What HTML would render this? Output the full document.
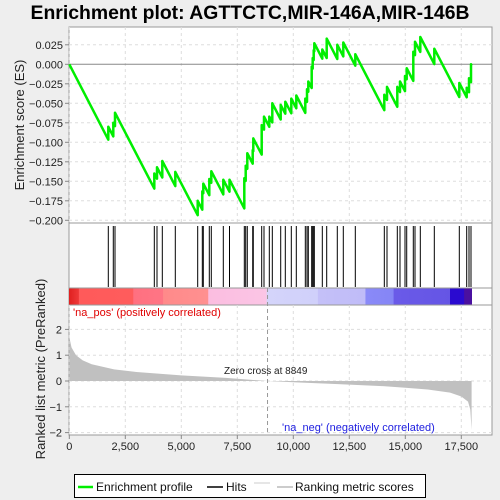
<!DOCTYPE html>
<html><head><meta charset="utf-8"><style>
html,body{margin:0;padding:0;background:#eeeeee;}
svg{display:block;font-family:"Liberation Sans",sans-serif;}
</style></head><body>
<svg id="chart" width="500" height="500" xmlns="http://www.w3.org/2000/svg">
<defs>
<linearGradient id="rankbar" x1="0" x2="1" y1="0" y2="0">
<stop offset="0" stop-color="#e02020"/><stop offset="0.024" stop-color="#ee3838"/>
<stop offset="0.025" stop-color="#ff5a5a"/><stop offset="0.159" stop-color="#ff5c5c"/>
<stop offset="0.16" stop-color="#ff7080"/><stop offset="0.233" stop-color="#ff7585"/>
<stop offset="0.234" stop-color="#ff8a8a"/><stop offset="0.345" stop-color="#ff9090"/>
<stop offset="0.346" stop-color="#fbbde0"/><stop offset="0.49" stop-color="#fbc5e5"/>
<stop offset="0.491" stop-color="#d4d4fa"/><stop offset="0.617" stop-color="#d0d0fa"/>
<stop offset="0.618" stop-color="#c4c0f8"/><stop offset="0.735" stop-color="#c0bcf8"/>
<stop offset="0.736" stop-color="#8a8af8"/><stop offset="0.805" stop-color="#8585f5"/>
<stop offset="0.806" stop-color="#6a5ae8"/><stop offset="0.945" stop-color="#6555e5"/>
<stop offset="0.946" stop-color="#2a0ad0"/><stop offset="0.98" stop-color="#2a0ad0"/>
<stop offset="0.981" stop-color="#4a10a0"/><stop offset="1" stop-color="#4a10a0"/>
</linearGradient>
</defs>
<text x="250" y="19" text-anchor="middle" font-size="19" font-weight="bold" textLength="439" lengthAdjust="spacingAndGlyphs">Enrichment plot: AGTTCTC,MIR-146A,MIR-146B</text>
<rect x="69" y="27" width="423" height="196" fill="#fff" stroke="#999"/>
<rect x="69" y="223" width="423" height="65" fill="#fff" stroke="#999"/>
<rect x="69" y="288" width="423" height="17" fill="#fff" stroke="#999"/>
<rect x="69" y="288.5" width="403" height="16" fill="url(#rankbar)"/>
<rect x="69" y="305" width="423" height="130" fill="#fff" stroke="#999"/>
<g id="grid"></g>
<g id="metric"></g>
<g id="hits"></g>
<g id="es"></g>
<g id="axes"></g>
<text x="73" y="316" font-size="11" fill="#e00000">'na_pos' (positively correlated)</text>
<text x="282" y="431" font-size="11" fill="#2020e0">'na_neg' (negatively correlated)</text>
<text x="224" y="374" font-size="10" fill="#222">Zero cross at 8849</text>
<text x="280" y="486" text-anchor="middle" font-size="13" fill="#222">Rank in Ordered Dataset</text>
<text transform="translate(24,125) rotate(-90)" text-anchor="middle" font-size="13" fill="#222">Enrichment score (ES)</text>
<text transform="translate(45,369) rotate(-90)" text-anchor="middle" font-size="13" fill="#222">Ranked list metric (PreRanked)</text>
<g>
<rect x="74.5" y="474.5" width="351" height="23" fill="#fff" stroke="#000"/>
<line x1="78" y1="487" x2="93" y2="487" stroke="#00ee00" stroke-width="2.5"/>
<text x="96" y="491" font-size="12" fill="#111">Enrichment profile</text>
<line x1="207" y1="487" x2="223" y2="487" stroke="#000" stroke-width="1.5"/>
<text x="226" y="491" font-size="12" fill="#111">Hits</text>
<line x1="254" y1="483" x2="270" y2="483" stroke="#ccc"/>
<line x1="277" y1="487" x2="293" y2="487" stroke="#bbb" stroke-width="1.5"/>
<text x="295" y="491" font-size="12" fill="#111">Ranking metric scores</text>
</g>
</svg>
<script>
const NS="http://www.w3.org/2000/svg";
const hitRanks=[1741,1964,2040,3795,3915,4152,4732,5732,5938,5982,6250,6339,6875,7152,7813,7875,7946,8188,8214,8589,8692,8929,9063,9438,9643,9911,10134,10536,10612,10670,10821,10866,10911,10938,11295,11491,11964,12232,12768,14063,14183,14643,14763,14987,15063,15357,15433,15670,16295,17411,17741,17844,17933];
const esAfterHit=[-0.080,-0.075,-0.062,-0.140,-0.132,-0.124,-0.138,-0.175,-0.163,-0.153,-0.147,-0.137,-0.148,-0.148,-0.146,-0.130,-0.114,-0.110,-0.095,-0.078,-0.067,-0.067,-0.050,-0.052,-0.048,-0.044,-0.040,-0.044,-0.032,-0.022,-0.003,0.008,0.018,0.027,0.019,0.033,0.025,0.028,0.013,-0.039,-0.029,-0.029,-0.022,-0.015,-0.005,0.016,0.029,0.035,0.020,-0.024,-0.030,-0.018,0.000];
const metricRanks=[0,100,300,600,1000,2000,3000,5000,7000,8849,10000,12000,14000,15000,16000,17000,17500,17800,17900,17960];
const metricValues=[1.7,1.3,1.0,0.8,0.65,0.45,0.35,0.22,0.12,0,-0.05,-0.12,-0.2,-0.26,-0.33,-0.45,-0.6,-0.8,-1.1,-1.9];
const xTicks=[0,2500,5000,7500,10000,12500,15000,17500];
const xTickLabels=["0","2,500","5,000","7,500","10,000","12,500","15,000","17,500"];
const esTicks=[0.025,0,-0.025,-0.05,-0.075,-0.1,-0.125,-0.15,-0.175,-0.2];
const esTickLabels=["0.025","0.000","\u22120.025","\u22120.050","\u22120.075","\u22120.100","\u22120.125","\u22120.150","\u22120.175","\u22120.200"];
const mTicks=[2,1,0,-1,-2];
const mTickLabels=["2","1","0","\u22121","\u22122"];
const totalN=17960, zeroCross=8849, downSlope=5.55e-5;
const X=r=>69.3+r*0.0224;
const Yes=v=>64.3-v*780;
const Ym=v=>381-v*25.8;
function mk(tag,attrs,parent){const e=document.createElementNS(NS,tag);for(const k in attrs)e.setAttribute(k,attrs[k]);parent.appendChild(e);return e;}
const grid=document.getElementById('grid'),axes=document.getElementById('axes');
xTicks.forEach((t,i)=>{
  const l1=mk('line',{x1:X(t),x2:X(t),y1:27,y2:223,stroke:'#ddd','stroke-dasharray':'3,3'},grid);
  
  
  const l2=mk('line',{x1:X(t),x2:X(t),y1:305,y2:435,stroke:'#ddd','stroke-dasharray':'3,3'},grid);
  
  
  const tk=mk('line',{x1:X(t),x2:X(t),y1:435,y2:439,stroke:'#888'},axes);
  
  
  const tx=mk('text',{x:X(t),y:450,'text-anchor':'middle','font-size':'11',fill:'#222'},axes);
  tx.textContent=xTickLabels[i];
  
  
});
esTicks.forEach((t,i)=>{
  const g=mk('line',{x1:69,x2:492,y1:Yes(t),y2:Yes(t),stroke:t===0?'#888':'#ddd','stroke-dasharray':t===0?'':'3,3'},grid);
  
  
  const tk=mk('line',{x1:65,x2:69,y1:Yes(t),y2:Yes(t),stroke:'#888'},axes);
  
  
  const tx=mk('text',{x:63,y:Yes(t)+4,'text-anchor':'end','font-size':'11',fill:'#222'},axes);
  tx.textContent=esTickLabels[i];
  
  
});
mTicks.forEach((t,i)=>{
  const g=mk('line',{x1:69,x2:492,y1:Ym(t),y2:Ym(t),stroke:'#ddd','stroke-dasharray':'3,3'},grid);
  
  
  const tk=mk('line',{x1:65,x2:69,y1:Ym(t),y2:Ym(t),stroke:'#888'},axes);
  
  
  const tx=mk('text',{x:62,y:Ym(t)+4,'text-anchor':'end','font-size':'11',fill:'#222'},axes);
  tx.textContent=mTickLabels[i];
  
  
});
let d='M'+X(0)+','+Ym(0);
metricRanks.forEach((r,i)=>{d+=' L'+X(r)+','+Ym(metricValues[i]);});
d+=' L'+X(totalN)+','+Ym(0)+' Z';
const area=mk('path',{d:d,fill:'#c0c0c0',stroke:'none'},document.getElementById('metric'));


const zl=mk('line',{x1:X(zeroCross),x2:X(zeroCross),y1:288,y2:435,stroke:'#999','stroke-dasharray':'4,3'},document.getElementById('metric'));


const hg=document.getElementById('hits');
hitRanks.forEach(r=>{
  const l=mk('line',{x1:X(r),x2:X(r),y1:226,y2:287,stroke:'#000','stroke-width':'1'},hg);
  
  
});
let pts=[[X(0),Yes(0)]];let prevR=0,prevV=0;
hitRanks.forEach((r,i)=>{
  const pre=prevV-downSlope*(r-prevR);
  pts.push([X(r),Yes(pre)]);
  pts.push([X(r),Yes(esAfterHit[i])]);
  prevR=r;prevV=esAfterHit[i];
});
pts.push([X(totalN),Yes(prevV-downSlope*(totalN-prevR))]);
const es=mk('polyline',{points:pts.map(p=>p[0].toFixed(1)+','+p[1].toFixed(1)).join(' '),fill:'none',stroke:'#00ee00','stroke-width':'2.5','stroke-linejoin':'round'},document.getElementById('es'));


</script>
</body></html>
